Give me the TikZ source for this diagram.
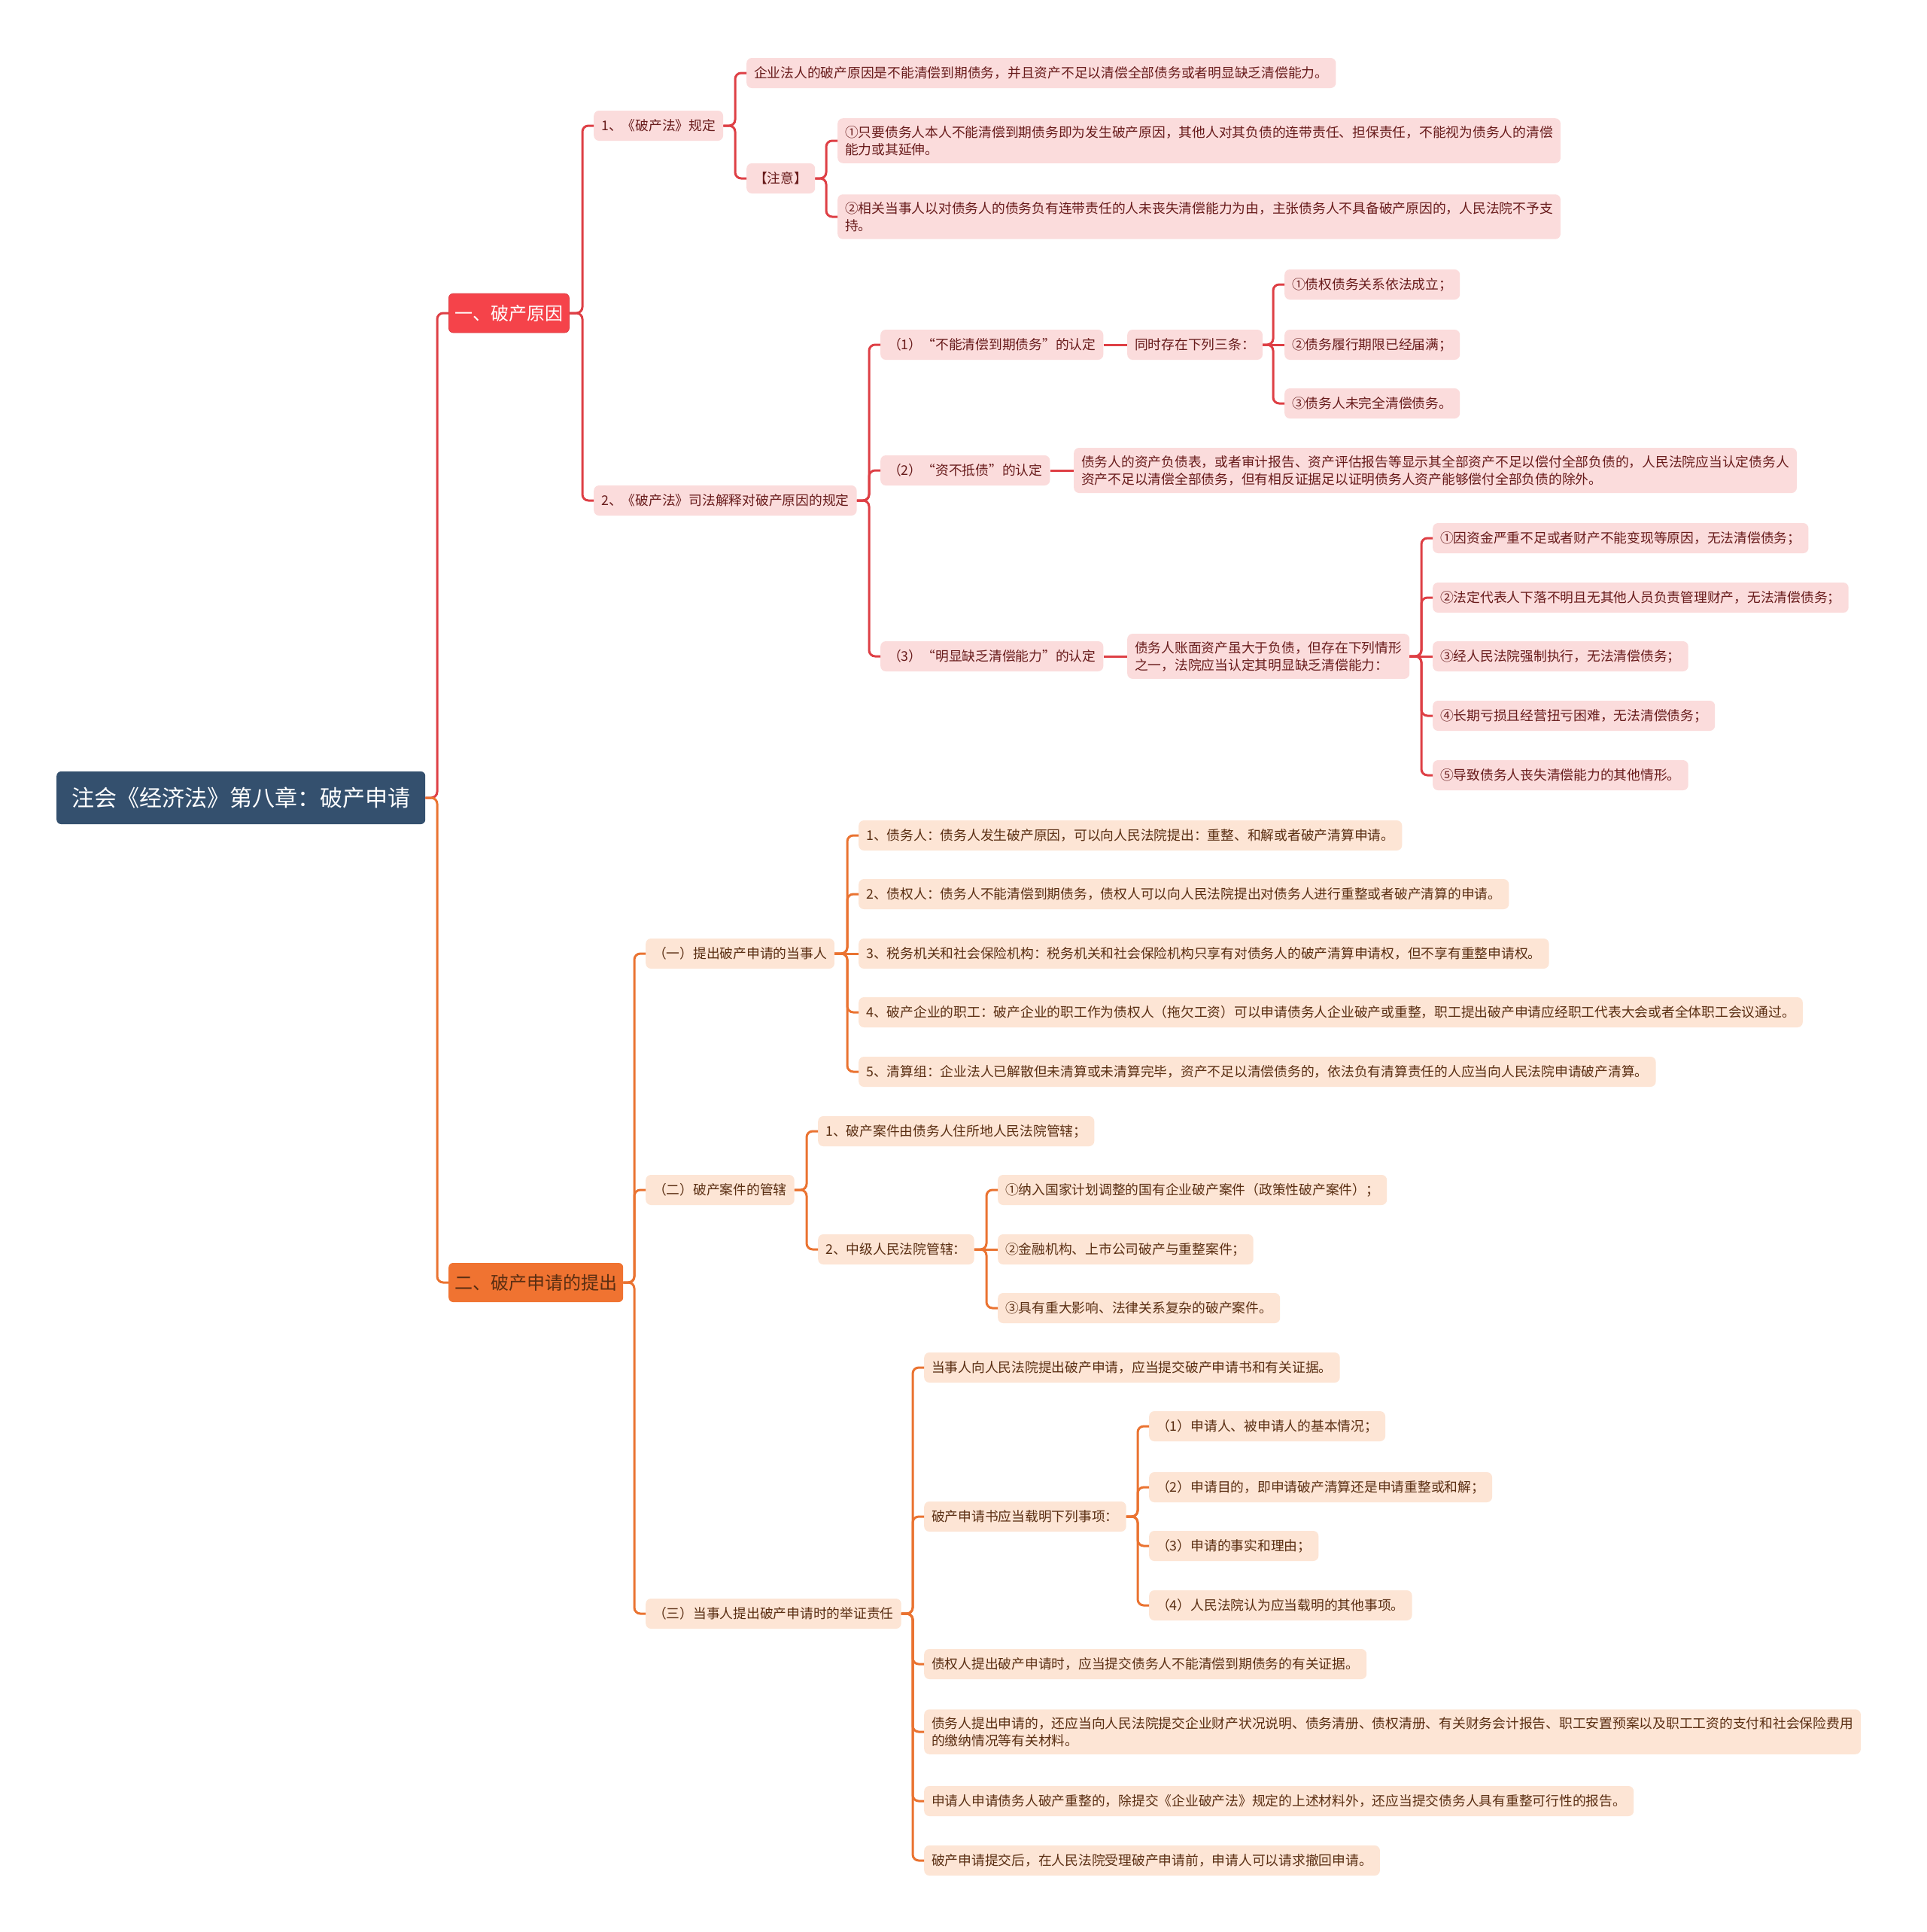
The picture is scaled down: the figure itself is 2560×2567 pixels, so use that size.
\documentclass[tikz,border=0pt]{standalone}
\usepackage{fontspec}
\setmainfont{Noto Sans CJK SC}
\definecolor{rootblue}{HTML}{34506E}
\definecolor{causered}{HTML}{F5434A}
\definecolor{redwire}{HTML}{DE3F45}
\definecolor{pinkfill}{HTML}{FBDCDC}
\definecolor{redtext}{HTML}{681B1B}
\definecolor{applyorg}{HTML}{F07331}
\definecolor{orgwire}{HTML}{EA7331}
\definecolor{peachfill}{HTML}{FDE5D5}
\definecolor{orgtext}{HTML}{5A2E12}
\begin{document}
\begin{tikzpicture}[x=1pt, y=-1pt,
    box/.style={rounded corners=7pt, inner xsep=10pt, inner ysep=10pt, minimum height=40pt,
        anchor=west, align=left, font=\fontsize{17.75}{23}\selectfont},
    redleaf/.style={box, fill=pinkfill, text=redtext},
    orgleaf/.style={box, fill=peachfill, text=orgtext},
    topic/.style={rounded corners=6pt, inner xsep=8pt, minimum height=52pt, anchor=west,
        font=\fontsize{24}{28}\selectfont},
    redlink/.style={draw=redwire, line width=3pt, rounded corners=8pt},
    orglink/.style={draw=orgwire, line width=3pt, rounded corners=8pt}]
    \fill[white] (0,0) rectangle (2560,2567);
    \useasboundingbox (0,0) rectangle (2560,2567);

    % root
    \node[rounded corners=6pt, fill=rootblue, text=white, inner xsep=20pt, minimum height=70pt,
        anchor=west, font=\fontsize{30}{34}\selectfont] (root) at (75,1060) {注会《经济法》第八章：破产申请};

    % part one
    \node[topic, fill=causered, draw=redwire, line width=0.8pt, text=white] (cause) at (596,416) {一、破产原因};
    \node[redleaf] (law) at (789,167) {1、《破产法》规定};
    \node[redleaf] (lawA) at (992,97) {企业法人的破产原因是不能清偿到期债务，并且资产不足以清偿全部债务或者明显缺乏清偿能力。};
    \node[redleaf] (note) at (992,237) {【注意】};
    \node[redleaf] (noteA) at (1113,187) {①只要债务人本人不能清偿到期债务即为发生破产原因，其他人对其负债的连带责任、担保责任，不能视为债务人的清偿\\能力或其延伸。};
    \node[redleaf] (noteB) at (1113,288) {②相关当事人以对债务人的债务负有连带责任的人未丧失清偿能力为由，主张债务人不具备破产原因的，人民法院不予支\\持。};
    \node[redleaf] (interp) at (789,665) {2、《破产法》司法解释对破产原因的规定};
    \node[redleaf] (debt) at (1170,458) {（1）“不能清偿到期债务”的认定};
    \node[redleaf] (debtCond) at (1498,458) {同时存在下列三条：};
    \node[redleaf] (debtA) at (1707,378) {①债权债务关系依法成立；};
    \node[redleaf] (debtB) at (1707,458) {②债务履行期限已经届满；};
    \node[redleaf] (debtC) at (1707,536) {③债务人未完全清偿债务。};
    \node[redleaf] (insolv) at (1170,625) {（2）“资不抵债”的认定};
    \node[redleaf] (insolvTxt) at (1427,625) {债务人的资产负债表，或者审计报告、资产评估报告等显示其全部资产不足以偿付全部负债的，人民法院应当认定债务人\\资产不足以清偿全部债务，但有相反证据足以证明债务人资产能够偿付全部负债的除外。};
    \node[redleaf] (lack) at (1170,872) {（3）“明显缺乏清偿能力”的认定};
    \node[redleaf] (lackCond) at (1498,872) {债务人账面资产虽大于负债，但存在下列情形\\之一，法院应当认定其明显缺乏清偿能力：};
    \node[redleaf] (lackA) at (1904,715) {①因资金严重不足或者财产不能变现等原因，无法清偿债务；};
    \node[redleaf] (lackB) at (1904,794) {②法定代表人下落不明且无其他人员负责管理财产，无法清偿债务；};
    \node[redleaf] (lackC) at (1904,872) {③经人民法院强制执行，无法清偿债务；};
    \node[redleaf] (lackD) at (1904,951) {④长期亏损且经营扭亏困难，无法清偿债务；};
    \node[redleaf] (lackE) at (1904,1030) {⑤导致债务人丧失清偿能力的其他情形。};

    % part two
    \node[topic, fill=applyorg, text=orgtext] (apply) at (596,1704) {二、破产申请的提出};
    \node[orgleaf] (party) at (858,1267) {（一）提出破产申请的当事人};
    \node[orgleaf] (partyA) at (1141,1110) {1、债务人：债务人发生破产原因，可以向人民法院提出：重整、和解或者破产清算申请。};
    \node[orgleaf] (partyB) at (1141,1188) {2、债权人：债务人不能清偿到期债务，债权人可以向人民法院提出对债务人进行重整或者破产清算的申请。};
    \node[orgleaf] (partyC) at (1141,1267) {3、税务机关和社会保险机构：税务机关和社会保险机构只享有对债务人的破产清算申请权，但不享有重整申请权。};
    \node[orgleaf] (partyD) at (1141,1345) {4、破产企业的职工：破产企业的职工作为债权人（拖欠工资）可以申请债务人企业破产或重整，职工提出破产申请应经职工代表大会或者全体职工会议通过。};
    \node[orgleaf] (partyE) at (1141,1424) {5、清算组：企业法人已解散但未清算或未清算完毕，资产不足以清偿债务的，依法负有清算责任的人应当向人民法院申请破产清算。};
    \node[orgleaf] (court) at (858,1581) {（二）破产案件的管辖};
    \node[orgleaf] (courtA) at (1087,1503) {1、破产案件由债务人住所地人民法院管辖；};
    \node[orgleaf] (courtB) at (1087,1660) {2、中级人民法院管辖：};
    \node[orgleaf] (courtBa) at (1326,1581) {①纳入国家计划调整的国有企业破产案件（政策性破产案件）；};
    \node[orgleaf] (courtBb) at (1326,1660) {②金融机构、上市公司破产与重整案件；};
    \node[orgleaf] (courtBc) at (1326,1738) {③具有重大影响、法律关系复杂的破产案件。};
    \node[orgleaf] (proof) at (858,2144) {（三）当事人提出破产申请时的举证责任};
    \node[orgleaf] (proofA) at (1228,1817) {当事人向人民法院提出破产申请，应当提交破产申请书和有关证据。};
    \node[orgleaf] (proofB) at (1228,2015) {破产申请书应当载明下列事项：};
    \node[orgleaf] (proofBa) at (1527,1895) {（1）申请人、被申请人的基本情况；};
    \node[orgleaf] (proofBb) at (1527,1976) {（2）申请目的，即申请破产清算还是申请重整或和解；};
    \node[orgleaf] (proofBc) at (1527,2054) {（3）申请的事实和理由；};
    \node[orgleaf] (proofBd) at (1527,2133) {（4）人民法院认为应当载明的其他事项。};
    \node[orgleaf] (proofC) at (1228,2211) {债权人提出破产申请时，应当提交债务人不能清偿到期债务的有关证据。};
    \node[orgleaf] (proofD) at (1228,2301) {债务人提出申请的，还应当向人民法院提交企业财产状况说明、债务清册、债权清册、有关财务会计报告、职工安置预案以及职工工资的支付和社会保险费用\\的缴纳情况等有关材料。};
    \node[orgleaf] (proofE) at (1228,2393) {申请人申请债务人破产重整的，除提交《企业破产法》规定的上述材料外，还应当提交债务人具有重整可行性的报告。};
    \node[orgleaf] (proofF) at (1228,2472) {破产申请提交后，在人民法院受理破产申请前，申请人可以请求撤回申请。};

    % red links (elbows, then straight ones)
    \draw[redlink] (root.east) -| ([xshift=-15pt]cause.west) -- (cause.west);
    \foreach \a/\b in {cause/law, cause/interp, law/lawA, law/note, note/noteA, note/noteB,
        interp/debt, interp/insolv, interp/lack, debtCond/debtA, debtCond/debtC,
        lackCond/lackA, lackCond/lackB, lackCond/lackD, lackCond/lackE}
        \draw[redlink] (\a.east) -| ([xshift=-15pt]\b.west) -- (\b.west);
    \foreach \a/\b in {debt/debtCond, debtCond/debtB, insolv/insolvTxt, lack/lackCond, lackCond/lackC}
        \draw[redlink] (\a.east) -- (\b.west);

    % orange links (elbows, then straight ones)
    \draw[orglink] (root.east) -| ([xshift=-15pt]apply.west) -- (apply.west);
    \foreach \a/\b in {apply/party, apply/court, apply/proof, party/partyA, party/partyB,
        party/partyD, party/partyE, court/courtA, court/courtB, courtB/courtBa,
        courtB/courtBc, proof/proofA, proof/proofB, proof/proofC, proof/proofD,
        proof/proofE, proof/proofF, proofB/proofBa, proofB/proofBb, proofB/proofBc, proofB/proofBd}
        \draw[orglink] (\a.east) -| ([xshift=-15pt]\b.west) -- (\b.west);
    \foreach \a/\b in {party/partyC, courtB/courtBb}
        \draw[orglink] (\a.east) -- (\b.west);
\end{tikzpicture}
\end{document}
